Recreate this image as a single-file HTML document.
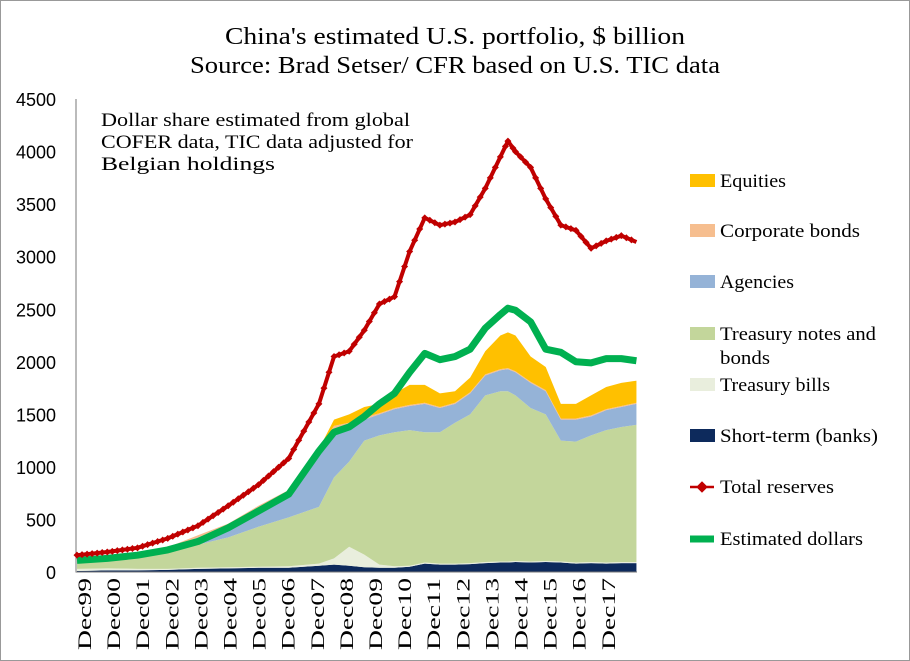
<!DOCTYPE html>
<html><head><meta charset="utf-8"><style>
body{margin:0;background:#fff;}
svg{display:block;font-family:"Liberation Serif",serif;}
</style></head><body>
<svg id="c" width="910" height="661">
<rect x="0.5" y="0.5" width="909" height="660" fill="#fff" stroke="#999"/>
<text x="455" y="44" text-anchor="middle" font-size="24" textLength="460" lengthAdjust="spacingAndGlyphs">China's estimated U.S. portfolio, $ billion</text>
<text x="455" y="73" text-anchor="middle" font-size="24" textLength="530" lengthAdjust="spacingAndGlyphs">Source: Brad Setser/ CFR based on U.S. TIC data</text>
<g font-size="19">
<text x="101" y="126" textLength="309" lengthAdjust="spacingAndGlyphs">Dollar share estimated from global</text>
<text x="101" y="148" textLength="312" lengthAdjust="spacingAndGlyphs">COFER data, TIC data adjusted for</text>
<text x="101" y="170" textLength="174" lengthAdjust="spacingAndGlyphs">Belgian holdings</text>
</g>
<g id="plot"></g>
<g id="legend" font-size="19"></g>
</svg>
<script>
const months=[0,12,24,36,48,60,72,84,96,102,108,114,120,126,132,138,144,150,156,162,168,171,174,180,186,192,198,204,210,216,222];
const shortTerm=[10,15,15,20,30,35,40,40,60,70,60,45,40,40,50,80,70,70,75,85,90,90,95,90,95,90,80,85,80,85,85];
const bills=[20,20,15,10,10,10,10,15,20,60,180,120,30,15,10,10,10,10,10,10,10,10,10,10,10,10,10,10,10,10,10];
const notes=[60,75,110,160,220,285,380,465,540,770,810,1085,1230,1275,1290,1240,1250,1340,1415,1585,1620,1620,1575,1460,1395,1150,1150,1205,1260,1285,1305];
const agencies=[20,20,20,30,70,100,150,200,480,450,350,200,200,220,230,270,230,180,200,190,200,210,220,240,220,200,210,180,190,190,200];
const corporate=[5,5,10,15,20,30,50,60,70,40,20,20,10,10,10,10,10,10,10,10,10,10,10,10,10,10,10,10,10,10,10];
const equities=[0,0,0,0,0,0,0,0,0,60,80,100,90,140,190,170,130,110,140,220,320,340,340,240,220,140,140,190,210,220,210];
const totalReserves=[160,190,230,320,440,630,830,1080,1600,2050,2100,2300,2550,2620,3050,3370,3300,3330,3400,3650,3950,4100,4000,3850,3550,3300,3250,3080,3150,3200,3140];
const estDollars=[110,130,160,210,290,420,580,740,1150,1330,1380,1480,1600,1700,1900,2080,2020,2050,2120,2320,2450,2510,2490,2380,2120,2090,2000,1990,2030,2030,2010];
const yTicks=[0,500,1000,1500,2000,2500,3000,3500,4000,4500];
const xLabels=["Dec99","Dec00","Dec01","Dec02","Dec03","Dec04","Dec05","Dec06","Dec07","Dec08","Dec09","Dec10","Dec11","Dec12","Dec13","Dec14","Dec15","Dec16","Dec17"];

const NS="http://www.w3.org/2000/svg";
const X=m=>77+m*2.52;
const Y=v=>572-v*0.1051;
const plot=document.getElementById('plot');
function mk(tag,attrs,parent){const e=document.createElementNS(NS,tag);for(const k in attrs)e.setAttribute(k,attrs[k]);(parent||plot).appendChild(e);return e;}

const stackSeries=[["short-term-area",shortTerm,"#0d2a5c"],["treasury-bills-area",bills,"#e9eedd"],["treasury-notes-area",notes,"#c3d69b"],["agencies-area",agencies,"#95b3d7"],["corporate-bonds-area",corporate,"#f6be8f"],["equities-area",equities,"#ffc000"]];
let base=months.map(()=>0);
stackSeries.forEach(([name,vals,col])=>{
  const top=base.map((b,i)=>b+vals[i]);
  let d="M"+months.map((m,i)=>X(m)+","+Y(top[i])).join("L");
  for(let i=months.length-1;i>=0;i--)d+="L"+X(months[i])+","+Y(base[i]);
  const p=mk('path',{d:d+"Z",fill:col});
  
  
  base=top;
});
const ax=mk('path',{d:"M76,99V572H637",stroke:"#777",fill:"none","stroke-width":1});


yTicks.forEach(v=>{
  const t=mk('text',{x:56,y:Y(v)+7,"text-anchor":"end","font-size":18,"font-family":"Liberation Sans, sans-serif"});
  t.textContent=v;
  
  
});
xLabels.forEach((l,i)=>{
  const x=91+i*29.1;
  const t=mk('text',{x:0,y:0,transform:`translate(${x},650) rotate(-90)`,"font-size":19,textLength:72,lengthAdjust:"spacingAndGlyphs"});
  t.textContent=l;
  
  
});
function line(vals,col,w,name){
  const l=mk('polyline',{points:months.map((m,i)=>X(m)+","+Y(vals[i])).join(" "),fill:"none",stroke:col,"stroke-width":w,"stroke-linejoin":"round"});
  
  
}
line(estDollars,"#00b050",7,"estimated-dollars-line");
line(totalReserves,"#c00000",4,"total-reserves-line");
for(let i=0;i<months.length-1;i++){
  for(let k=0;k<months[i+1]-months[i];k+=2){
    const m=months[i]+k,v=totalReserves[i]+(totalReserves[i+1]-totalReserves[i])*k/(months[i+1]-months[i]);
    const c=mk('path',{d:`M${X(m)-3.5},${Y(v)}L${X(m)},${Y(v)-3.5}L${X(m)+3.5},${Y(v)}L${X(m)},${Y(v)+3.5}Z`,fill:"#c00000"});
    
    
  }
}
const lg=document.getElementById('legend');
const items=[["Equities",181,"box","#ffc000",66],["Corporate bonds",231,"box","#f6be8f",140],["Agencies",282,"box","#95b3d7",74],["Treasury notes and",334,"box","#c3d69b",156],["Treasury bills",385,"box","#e9eedd",110],["Short-term (banks)",436,"box","#0d2a5c",158],["Total reserves",487,"red","#c00000",114],["Estimated dollars",539,"green","#00b050",143]];
items.forEach(([t,y,kind,col,w])=>{
  if(kind==="box"){const r=mk('rect',{x:690,y:y-7,width:25,height:13,fill:col},lg);}
  else if(kind==="red"){const r=mk('path',{d:`M690,${y}H714M698,${y}l4,-4l4,4l-4,4z`,stroke:col,fill:col,"stroke-width":2.5},lg);}
  else{const r=mk('line',{x1:690,x2:714,y1:y,y2:y,stroke:col,"stroke-width":7},lg);}
  const tx=mk('text',{x:720,y:y+6,textLength:w,lengthAdjust:"spacingAndGlyphs"},lg);tx.textContent=t;
  
  
});
const t2=mk('text',{x:720,y:364,textLength:50,lengthAdjust:"spacingAndGlyphs"},lg);t2.textContent="bonds";


</script>
</body></html>
